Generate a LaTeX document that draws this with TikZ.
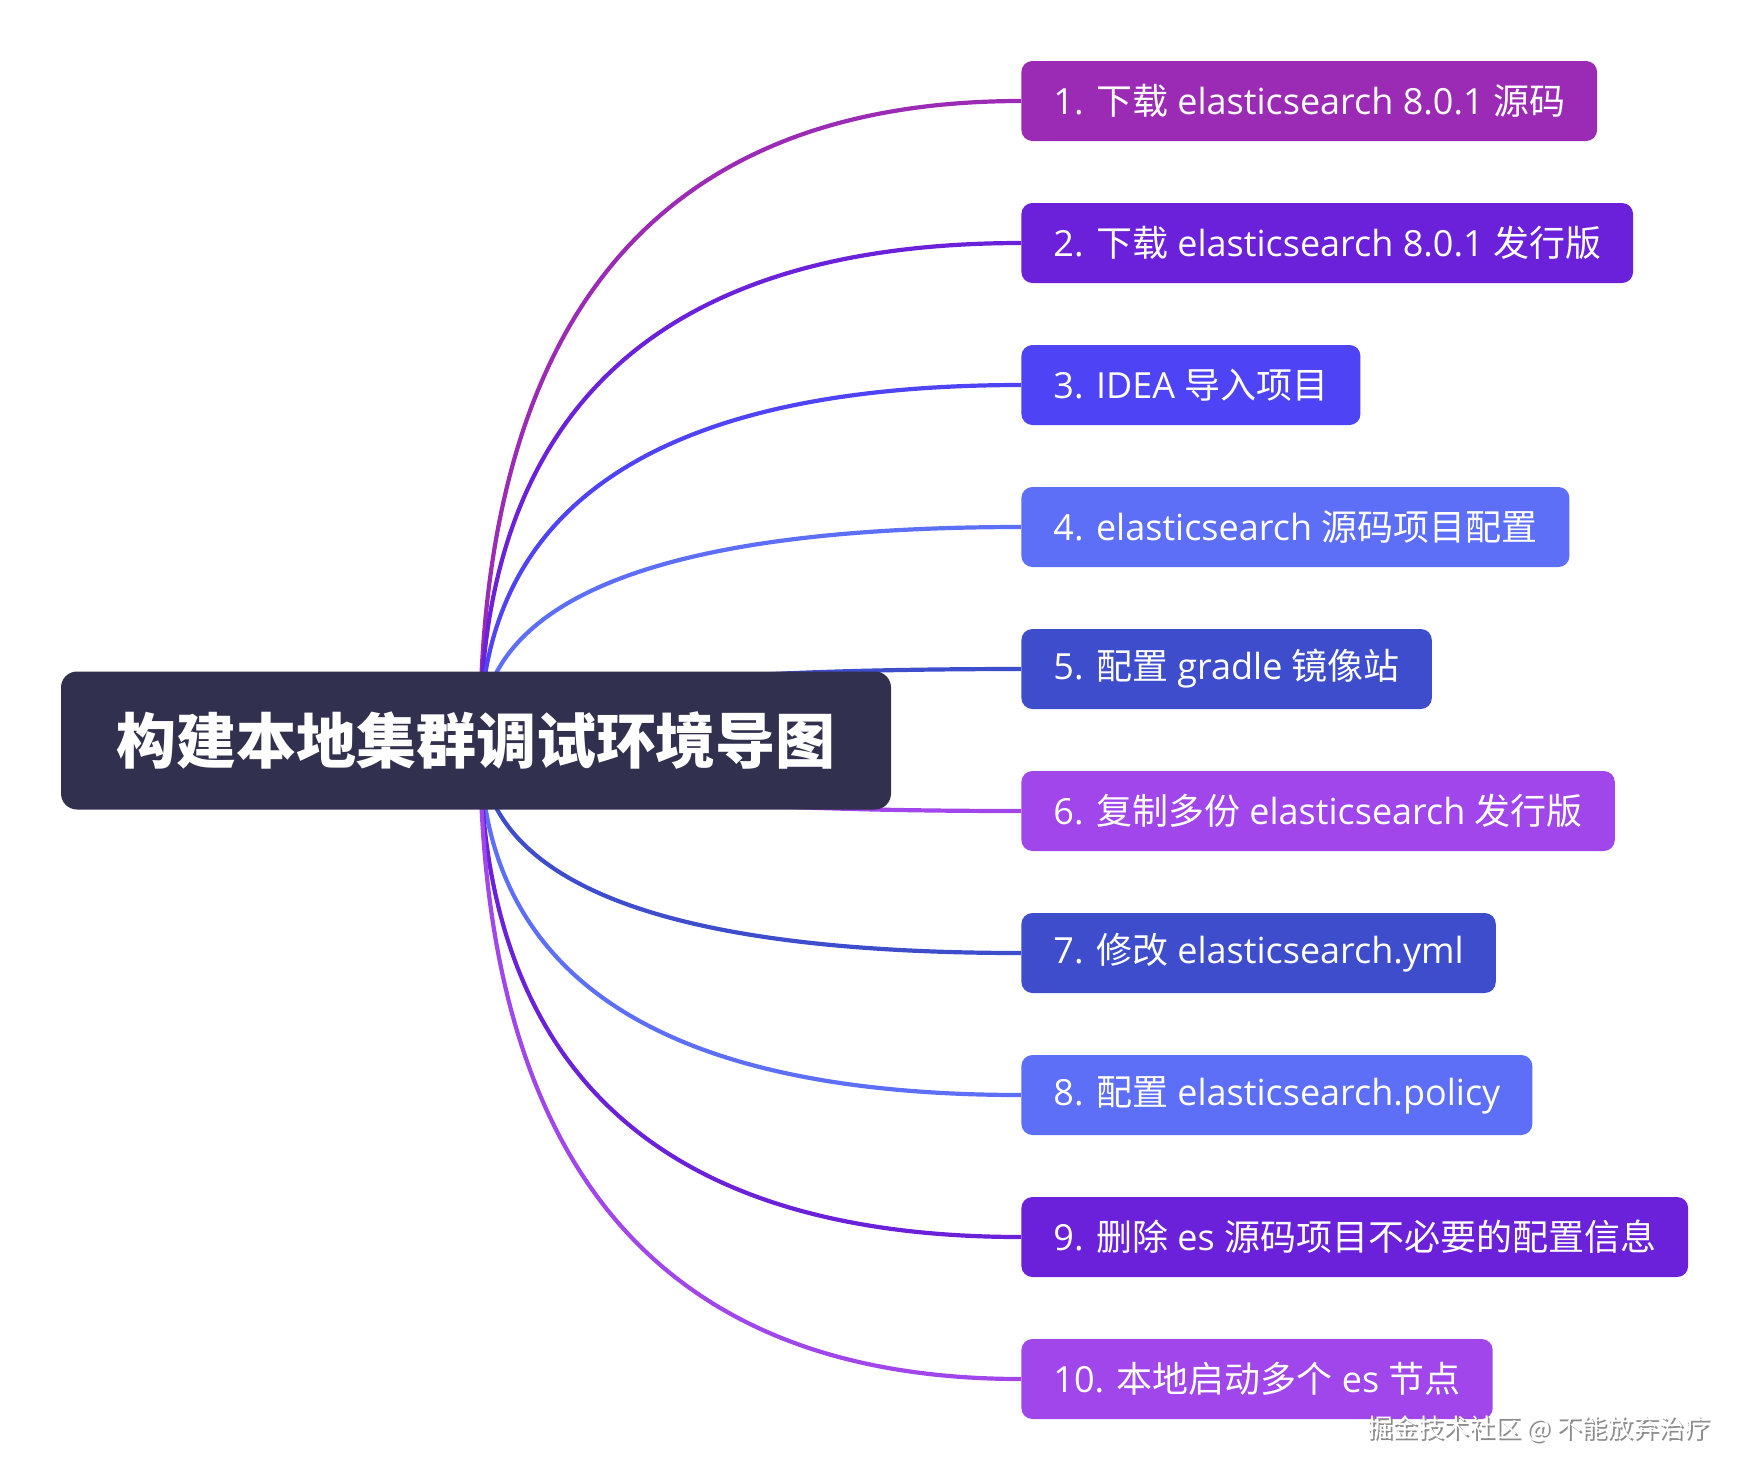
\documentclass[tikz,border=0pt]{standalone}
\usepackage{fontspec}
\setmainfont{Open Sans}
\newfontfamily\cjk{Noto Sans CJK SC}
\usetikzlibrary{calc}
\definecolor{rootnavy}{HTML}{31304E}
\definecolor{stepplum}{HTML}{9B2BB5}
\definecolor{stepviolet}{HTML}{6B21D9}
\definecolor{stepindigo}{HTML}{4F44F5}
\definecolor{stepsky}{HTML}{5D6EF7}
\definecolor{stepnavy}{HTML}{3E4DCC}
\definecolor{steplilac}{HTML}{A046EA}
\pgfdeclarelayer{background}
\pgfsetlayers{background,main}

\begin{document}
\begin{tikzpicture}[x=0.5pt,y=-0.5pt,
  rootbox/.style={fill=rootnavy,rounded corners=8pt,text=white,minimum width=415pt,minimum height=69pt,font=\fontsize{30}{36}\selectfont\cjk\bfseries},
  stepbox/.style={fill=#1,rounded corners=5.5pt,text=white,anchor=west,minimum height=40pt,inner xsep=16pt,font=\fontsize{18}{22}\selectfont},
  branch/.style={line width=2.1pt,draw=#1,to path={.. controls ($(\tikztostart)!2/3!(\tikztostart |- \tikztotarget)$) and ($(\tikztotarget)!2/3!(\tikztostart |- \tikztotarget)$) .. (\tikztotarget)}},
  wm/.style={anchor=east,font=\fontsize{12.8}{15}\selectfont\cjk}]
  \useasboundingbox (0,0) rectangle (1746,1480);
  \node[rootbox] (root) at (476,740.5) {构建本地集群调试环境导图};
  \coordinate (hub) at (480,740.5);
  \node[stepbox=stepplum] (s1) at (1021,101) {1. {\cjk 下载} elasticsearch 8.0.1 {\cjk 源码}};
  \node[stepbox=stepviolet] (s2) at (1021,243) {2. {\cjk 下载} elasticsearch 8.0.1 {\cjk 发行版}};
  \node[stepbox=stepindigo] (s3) at (1021,385) {3. IDEA {\cjk 导入项目}};
  \node[stepbox=stepsky] (s4) at (1021,527) {4. elasticsearch {\cjk 源码项目配置}};
  \node[stepbox=stepnavy] (s5) at (1021,669) {5. {\cjk 配置} gradle {\cjk 镜像站}};
  \node[stepbox=steplilac] (s6) at (1021,811) {6. {\cjk 复制多份} elasticsearch {\cjk 发行版}};
  \node[stepbox=stepnavy] (s7) at (1021,953) {7. {\cjk 修改} elasticsearch.yml};
  \node[stepbox=stepsky] (s8) at (1021,1095) {8. {\cjk 配置} elasticsearch.policy};
  \node[stepbox=stepviolet] (s9) at (1021,1237) {9. {\cjk 删除} es {\cjk 源码项目不必要的配置信息}};
  \node[stepbox=steplilac] (s10) at (1021,1379) {10. {\cjk 本地启动多个} es {\cjk 节点}};
  \begin{pgfonlayer}{background}
    \draw[branch=stepplum] (hub) to (s1.west);
    \draw[branch=stepviolet] (hub) to (s2.west);
    \draw[branch=stepindigo] (hub) to (s3.west);
    \draw[branch=stepsky] (hub) to (s4.west);
    \draw[branch=stepnavy] (hub) to (s5.west);
    \draw[branch=steplilac] (hub) to (s6.west);
    \draw[branch=stepnavy] (hub) to (s7.west);
    \draw[branch=stepsky] (hub) to (s8.west);
    \draw[branch=stepviolet] (hub) to (s9.west);
    \draw[branch=steplilac] (hub) to (s10.west);
  \end{pgfonlayer}
  \node[wm,text=black!45] (wmshade) at (1719,1431) {掘金技术社区 @ 不能放弃治疗};
  \node[wm,text=white] (wmark) at (1717,1429) {掘金技术社区 @ 不能放弃治疗};
\end{tikzpicture}
\end{document}
